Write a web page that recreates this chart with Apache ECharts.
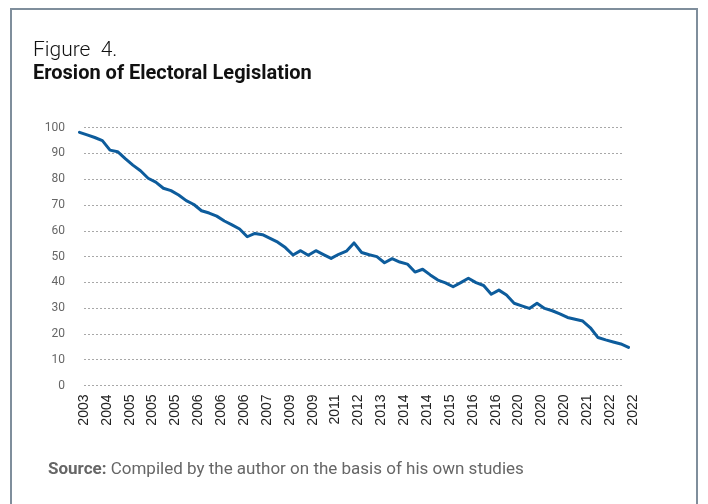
<!DOCTYPE html>
<html>
<head>
<meta charset="utf-8">
<script src="https://cdn.jsdelivr.net/npm/echarts@6/dist/echarts.min.js"></script>
<style>
  html, body { margin: 0; padding: 0; background: #fff; }
  #chart { width: 708px; height: 504px; }
</style>
</head>
<body>
<div id="chart"></div>
<script>
// year shown under every third point
var yearLabels = ['2003', '2004', '2005', '2005', '2005', '2006', '2006', '2006', '2007',
  '2009', '2009', '2011', '2012', '2013', '2014', '2014', '2015', '2016', '2016',
  '2020', '2020', '2020', '2021', '2022', '2022'];

// index values (73 points)
var erosion = [
  98.2, 97.2, 96.2, 95.0, 91.3, 90.7, 88.0, 85.5, 83.3, 80.4,
  78.9, 76.5, 75.6, 73.9, 71.7, 70.2, 67.8, 66.9, 65.7, 63.8,
  62.3, 60.7, 57.7, 59.0, 58.5, 57.1, 55.6, 53.5, 50.6, 52.3,
  50.5, 52.3, 50.8, 49.3, 50.9, 52.1, 55.3, 51.6, 50.7, 50.0,
  47.6, 49.2, 47.9, 47.1, 44.0, 45.1, 42.9, 40.9, 39.8, 38.3,
  39.9, 41.6, 39.9, 38.8, 35.4, 37.0, 35.1, 31.9, 30.9, 29.9,
  31.9, 29.9, 29.0, 27.8, 26.4, 25.7, 25.0, 22.4, 18.6, 17.7,
  16.9, 16.1, 14.8
];

var categories = erosion.map(function (v, i) {
  return yearLabels[Math.floor(i / 3)];
});

var chart = echarts.init(document.getElementById('chart'), null, { renderer: 'canvas' });

var option = {
  animation: false,
  title: [{
    text: 'Figure  4.',
    left: 28, top: 35,
    textStyle: { fontFamily: 'Roboto', fontWeight: 300, fontSize: 21, color: '#111' }
  }, {
    text: 'Erosion of Electoral Legislation',
    left: 28, top: 59,
    textStyle: { fontFamily: 'Roboto', fontWeight: 'bold', fontSize: 20, color: '#111' }
  }],
  graphic: [{
    type: 'rect',
    shape: { x: 11, y: 9, width: 686, height: 520 },
    style: { fill: 'none', stroke: '#7f8e9c', lineWidth: 2 }
  }, {
    type: 'text',
    left: 48, top: 461,
    style: {
      text: '{b|Source:} Compiled by the author on the basis of his own studies',
      rich: {
        b: { fontFamily: 'Roboto', fontWeight: 'bold', fontSize: 17, fill: '#666' }
      },
      fontFamily: 'Roboto', fontSize: 17, fill: '#666'
    }
  }],
  grid: [
    { left: 79.5, right: 79.5, top: 127.7, bottom: 118.5 },
    { left: 84, right: 85, top: 127.7, bottom: 118.5 }
  ],
  xAxis: [{
    type: 'category',
    gridIndex: 0,
    data: categories,
    boundaryGap: false,
    axisLine: { show: false },
    axisTick: { show: false },
    axisLabel: {
      interval: 2,
      rotate: 90,
      margin: 9,
      verticalAlign: 'top',
      lineHeight: 9,
      fontFamily: 'Liberation Sans',
      fontSize: 14,
      color: '#222'
    },
    splitLine: { show: false }
  }, {
    type: 'category',
    gridIndex: 1,
    data: categories,
    show: false
  }],
  yAxis: [{
    type: 'value',
    gridIndex: 0,
    min: 0, max: 100, interval: 10,
    show: false,
    splitLine: { show: false }
  }, {
    type: 'value',
    gridIndex: 1,
    min: 0, max: 100, interval: 10,
    axisLine: { show: false },
    axisTick: { show: false },
    axisLabel: {
      margin: 19,
      fontFamily: 'Roboto',
      fontSize: 12,
      color: '#666'
    },
    splitLine: {
      lineStyle: { type: [2, 2], color: '#a8a8a8', width: 1 }
    }
  }],
  series: [{
    name: 'Erosion',
    type: 'line',
    xAxisIndex: 0,
    yAxisIndex: 0,
    data: erosion,
    symbol: 'none',
    lineStyle: { color: '#0d5c9c', width: 3, join: 'round', cap: 'round' },
    itemStyle: { color: '#0d5c9c' },
    z: 3
  }]
};

chart.setOption(option);
</script>
</body>
</html>
